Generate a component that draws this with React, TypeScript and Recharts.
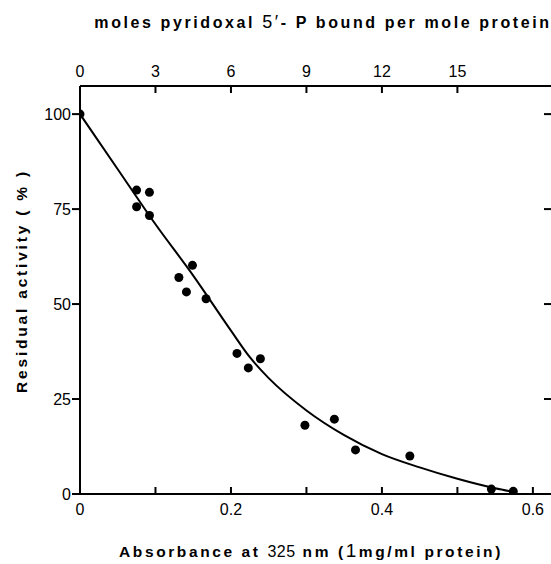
import React from 'react';
import { ComposedChart, Scatter, Line, XAxis, YAxis } from 'recharts';

// measured points: absorbance at 325 nm vs residual activity (%)
const absorbance = [0, 0.075, 0.092, 0.075, 0.092, 0.131, 0.149, 0.141, 0.167, 0.208, 0.223, 0.239, 0.298, 0.337, 0.365, 0.437, 0.545, 0.574];
const activity = [100, 80, 79.4, 75.6, 73.3, 57, 60.2, 53.2, 51.4, 37, 33.2, 35.6, 18.1, 19.7, 11.6, 10, 1.3, 0.7];

// hand-drawn fit curve
const curveX = [0, 0.05, 0.1, 0.15, 0.2, 0.225, 0.25, 0.3, 0.35, 0.4, 0.45, 0.5, 0.55, 0.575];
const curveY = [100, 85.5, 71, 57.5, 43, 36, 30.5, 22, 15.5, 10.5, 7, 4, 1.5, 0.5];

const bottomTicks = [0, 0.1, 0.2, 0.3, 0.4, 0.5, 0.6];
const bottomTickLabels = ['0', '', '0.2', '', '0.4', '', '0.6'];
const topTickMoles = [0, 3, 6, 9, 12, 15];
const MOLES_PER_ABS = 30;
const yTicks = [0, 25, 50, 75, 100];
const rightTicks = [25, 50, 75, 100];

const points = absorbance.map((x, i) => ({ x, y: activity[i] }));
const curve = curveX.map((x, i) => ({ x, y: curveY[i] }));

const X_DOMAIN: [number, number] = [0, 0.624];
const Y_DOMAIN: [number, number] = [0, 107.4];
const FONT = '"Liberation Sans", Arial, Helvetica, sans-serif';

const BottomTick = ({ x, y, index }: any) => (
  <g>
    <line x1={x} y1={y} x2={x} y2={y - 7} stroke="#000" strokeWidth={2} />
    {bottomTickLabels[index] ? (
      <text x={x} y={y + 21} textAnchor="middle" fontSize={16} fill="#000">
        {bottomTickLabels[index]}
      </text>
    ) : null}
  </g>
);

const TopTick = ({ x, y, payload }: any) => (
  <g>
    {payload.value > 0 && <line x1={x} y1={y} x2={x} y2={y + 7} stroke="#000" strokeWidth={2} />}
    <text x={x} y={y - 9} textAnchor="middle" fontSize={16} fill="#000">
      {Math.round(payload.value * MOLES_PER_ABS)}
    </text>
  </g>
);

const RightTick = ({ x, y }: any) => (
  <line x1={x} y1={y} x2={x - 7} y2={y} stroke="#000" strokeWidth={2} />
);

const TopTitle = () => (
  <text x={323} y={28} textAnchor="middle" fontSize={16} fontWeight="bold" letterSpacing={2.6} fill="#000">
    moles  pyridoxal <tspan fontWeight="normal" fontSize={18}>5′</tspan>- P bound per mole protein
  </text>
);

const BottomTitle = () => (
  <text x={311} y={557} textAnchor="middle" fontSize={15.5} fontWeight="bold" letterSpacing={2.6} fill="#000">
    Absorbance at <tspan fontWeight="normal" fontSize={16} letterSpacing={0.5}>325</tspan> nm (<tspan fontWeight="normal" fontSize={19}>1</tspan>mg/ml protein)
  </text>
);

const YTitle = () => (
  <text
    x={27}
    y={281}
    transform="rotate(-90, 27, 281)"
    textAnchor="middle"
    fontSize={15.5}
    fontWeight="bold"
    letterSpacing={2.8}
    fill="#000"
  >
    Residual activity ( % )
  </text>
);

export default function App() {
  return (
    <div style={{ position: 'fixed', left: 0, top: 0, width: 551, height: 564, overflow: 'hidden', background: '#fff', fontFamily: FONT }}>
      <ComposedChart width={552} height={564} margin={{ top: 0, right: 0, bottom: 0, left: 0 }}>
        <XAxis
          xAxisId="bottom"
          orientation="bottom"
          type="number"
          dataKey="x"
          domain={X_DOMAIN}
          allowDataOverflow
          ticks={bottomTicks}
          interval={0}
          height={70}
          tickSize={0}
          tickMargin={0}
          axisLine={{ stroke: '#000', strokeWidth: 2 }}
          tickLine={false}
          tick={<BottomTick />}
          label={<BottomTitle />}
        />
        <XAxis
          xAxisId="top"
          orientation="top"
          type="number"
          dataKey="x"
          domain={X_DOMAIN}
          allowDataOverflow
          ticks={topTickMoles.map((m) => m / MOLES_PER_ABS)}
          interval={0}
          height={86}
          tickSize={0}
          tickMargin={0}
          axisLine={{ stroke: '#000', strokeWidth: 2 }}
          tickLine={false}
          tick={<TopTick />}
          label={<TopTitle />}
        />
        <YAxis
          yAxisId="left"
          type="number"
          domain={Y_DOMAIN}
          allowDataOverflow
          ticks={yTicks}
          interval={0}
          width={80}
          tickSize={8}
          tickMargin={1}
          axisLine={{ stroke: '#000', strokeWidth: 2 }}
          tickLine={{ stroke: '#000', strokeWidth: 2 }}
          tick={{ fill: '#000', fontSize: 16 }}
          label={<YTitle />}
        />
        <YAxis
          yAxisId="right"
          orientation="right"
          type="number"
          domain={Y_DOMAIN}
          allowDataOverflow
          ticks={rightTicks}
          interval={0}
          width={1}
          tickSize={0}
          tickMargin={0}
          axisLine={false}
          tickLine={false}
          tick={<RightTick />}
        />
        <Line
          xAxisId="bottom"
          yAxisId="right"
          data={curve}
          dataKey="y"
          type="monotone"
          stroke="#000"
          strokeWidth={2}
          dot={false}
          activeDot={false}
          isAnimationActive={false}
        />
        <Scatter
          xAxisId="top"
          yAxisId="left"
          data={points}
          dataKey="y"
          fill="#000"
          shape={(p: any) => <circle cx={p.cx} cy={p.cy} r={4.5} fill="#000" />}
          isAnimationActive={false}
        />
      </ComposedChart>
    </div>
  );
}
